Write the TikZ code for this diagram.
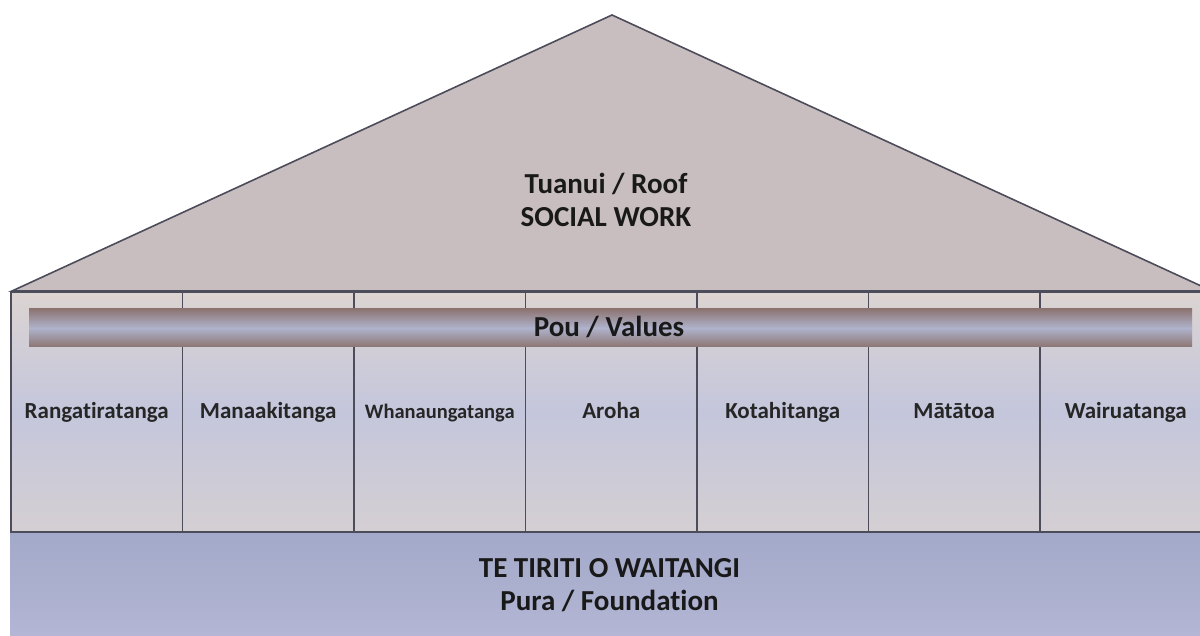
\documentclass[tikz,border=0pt]{standalone}
\usepackage{fontspec}
\setmainfont[Ligatures={NoCommon}]{Carlito}
\definecolor{roofc}{HTML}{C8BEBF}
\definecolor{linec}{HTML}{4C4C5A}
\definecolor{colTop}{HTML}{DCD4D2}
\definecolor{colMid}{HTML}{C4C6DC}
\definecolor{colBot}{HTML}{D4CFD2}
\definecolor{barEdge}{HTML}{8C7472}
\definecolor{barMid}{HTML}{AFB3CC}
\definecolor{fndTop}{HTML}{A3A9C9}
\definecolor{fndBot}{HTML}{B3B6D4}
\tikzset{
  outline/.style={draw=linec, line width=1.6pt},
  bigtext/.style={font=\bfseries\fontsize{29}{33}\selectfont, align=center, text=black!90, anchor=base},
  collabel/.style={font=\bfseries\fontsize{23}{26}\selectfont, text=black!85, anchor=base},
}
\begin{document}
\begin{tikzpicture}[x=1pt,y=-1pt]
\useasboundingbox (0,0) rectangle (1200,636);
\clip (0,0) rectangle (1200,636);
% roof
\path[outline, fill=roofc] (12,291) -- (612,15) -- (1212,291) -- cycle;
\node[bigtext] (roof) at (606,227) {Tuanui / Roof\\SOCIAL WORK};
% body
\path[outline, top color=colTop, bottom color=colBot, middle color=colMid] (11,292) rectangle (1211,532);
\foreach \k in {1,...,6} {
  \draw[linec, line width=1.6pt] ({11+171.5*\k},292) -- ({11+171.5*\k},532);
}
% bar
\path[top color=barEdge, bottom color=barEdge, middle color=barMid] (29,309) rectangle (1192,347);
\node[bigtext] (pou) at (609,337) {Pou / Values};
% column labels
\node[collabel] (c1) at (96.75,418) {Rangatiratanga};
\node[collabel] (c2) at (268.25,418) {Manaakitanga};
\node[collabel, font=\bfseries\fontsize{20.5}{24}\selectfont] (c3) at (439.75,418) {Whanaungatanga};
\node[collabel] (c4) at (611.25,418) {Aroha};
\node[collabel] (c5) at (782.75,418) {Kotahitanga};
\node[collabel] (c6) at (954.25,418) {Mātātoa};
\node[collabel] (c7) at (1125.75,418) {Wairuatanga};
% foundation
\path[top color=fndTop, bottom color=fndBot] (10,533) rectangle (1200,636);
\node[bigtext] (fnd) at (609.5,610) {TE TIRITI O WAITANGI\\Pura / Foundation};
\end{tikzpicture}
\end{document}
